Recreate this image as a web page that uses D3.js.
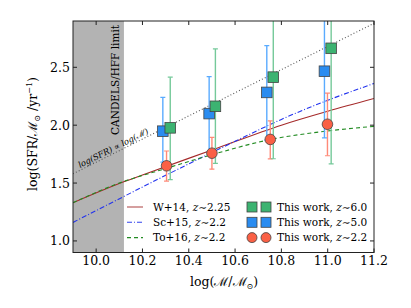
<!DOCTYPE html>
<html><head><meta charset="utf-8">
<script src="https://cdn.jsdelivr.net/npm/d3@7/dist/d3.min.js"></script>
<style>body{margin:0;background:#fff}svg{display:block}text{font-family:"DejaVu Serif",serif;fill:#000}</style>
</head><body>
<svg id="c" width="411" height="308"></svg>
<script>
// ---- data ----
const xTicks = [10.0, 10.2, 10.4, 10.6, 10.8, 11.0, 11.2];
const yTicks = [1.0, 1.5, 2.0, 2.5];
const limitX = 10.12;
// reference relations [logM, logSFR]
const w14 = [[9.9,1.33],[10.125,1.515],[10.2,1.57],[10.5,1.785],[10.8,2.0],[11.0,2.12],[11.2,2.23]];
const sc15 = [[9.9,1.16],[10.62,1.88],[10.8,2.05],[11.0,2.215],[11.2,2.36]];
const to16 = [[9.9,1.33],[10.1,1.50],[10.3,1.625],[10.5,1.745],[10.75,1.875],[11.0,1.95],[11.2,1.99]];
const linear = [[9.9,1.58],[11.2,2.88]];
// this work: x, y, lower, upper
const z6x = [10.32, 10.515, 10.765, 11.015];
const z6y = [1.977, 2.163, 2.415, 2.664];
const z6lo = [1.53, 1.67, 1.71, 1.665];
const z6hi = [2.415, 2.659, 3.2, 3.3];
const z5x = [10.288, 10.488, 10.737, 10.986];
const z5y = [1.948, 2.10, 2.283, 2.466];
const z5lo = [1.68, 1.77, 1.87, 1.89];
const z5hi = [2.24, 2.42, 2.687, 3.2];
const z2x = [10.304, 10.50, 10.752, 10.999];
const z2y = [1.649, 1.758, 1.877, 2.008];
const z2lo = [1.517, 1.62, 1.708, 1.736];
const z2hi = [1.777, 1.894, 2.037, 2.277];

const svg = d3.select("#c");
const L=73, R=374, T=21, B=252.5;
const x = d3.scaleLinear([9.9, 11.2], [L, R]);
const y = d3.scaleLinear([0.9, 2.9], [B, T]);

svg.append("defs").append("clipPath").attr("id","clip")
  .append("rect").attr("x",L).attr("y",T).attr("width",R-L).attr("height",B-T);
const g = svg.append("g").attr("clip-path","url(#clip)");

// shaded limit
g.append("rect").attr("x",x(9.9)).attr("y",T).attr("width",x(limitX)-x(9.9)).attr("height",B-T).attr("fill","#b3b3b3");
svg.append("text").attr("transform",`translate(${x(limitX)-5},${T+4}) rotate(-90)`)
  .attr("text-anchor","end").attr("font-size",10.5).text("CANDELS/HFF limit");

const line = d3.line().x(d=>x(d[0])).y(d=>y(d[1])).curve(d3.curveMonotoneX);
g.append("path").attr("d",line(linear)).attr("fill","none").attr("stroke","#555").attr("stroke-width",1.1).attr("stroke-dasharray","1,2.2");
g.append("path").attr("d",line(w14)).attr("fill","none").attr("stroke","#a52a2a").attr("stroke-width",1.1);
g.append("path").attr("d",line(sc15)).attr("fill","none").attr("stroke","#2233ee").attr("stroke-width",1.1).attr("stroke-dasharray","5,2,1,2");
g.append("path").attr("d",line(to16)).attr("fill","none").attr("stroke","#228b22").attr("stroke-width",1.1).attr("stroke-dasharray","4,3");

// slope annotation
const ang = -Math.atan2(y(1)-y(2), x(2)-x(1))*180/Math.PI;
svg.append("text").attr("transform",`translate(${x(9.93)},${y(1.63)}) rotate(${ang})`)
  .attr("font-size",8.3).attr("font-style","italic").text("log(SFR) ∝ log(ℳ)");

// error bars + markers
const sets = [
  {xs:z2x, ys:z2y, lo:z2lo, hi:z2hi, fill:"#fa6045", eb:"#ff8a78", shape:"c"},
  {xs:z5x, ys:z5y, lo:z5lo, hi:z5hi, fill:"#2a8cf0", eb:"#5aabff", shape:"s"},
  {xs:z6x, ys:z6y, lo:z6lo, hi:z6hi, fill:"#3cb371", eb:"#75c99a", shape:"s"}
];
sets.forEach(s=>{
  s.xs.forEach((xv,i)=>{
    const px=x(xv);
    g.append("line").attr("x1",px).attr("x2",px).attr("y1",y(s.lo[i])).attr("y2",y(s.hi[i])).attr("stroke",s.eb).attr("stroke-width",1.4);
    [s.lo[i], s.hi[i]].forEach(v=>g.append("line").attr("x1",px-2.5).attr("x2",px+2.5).attr("y1",y(v)).attr("y2",y(v)).attr("stroke",s.eb).attr("stroke-width",1.2));
  });
});
sets.forEach(s=>{
  s.xs.forEach((xv,i)=>{
    const px=x(xv), py=y(s.ys[i]);
    if(s.shape==="c") g.append("circle").attr("cx",px).attr("cy",py).attr("r",5.3).attr("fill",s.fill).attr("stroke","#444").attr("stroke-width",0.8);
    else g.append("rect").attr("x",px-5.3).attr("y",py-5.3).attr("width",10.6).attr("height",10.6).attr("fill",s.fill).attr("stroke","#444").attr("stroke-width",0.8);
  });
});

// frame
svg.append("rect").attr("x",L).attr("y",T).attr("width",R-L).attr("height",B-T).attr("fill","none").attr("stroke","#222").attr("stroke-width",1);
// ticks
xTicks.forEach(t=>{
  const px=x(t);
  svg.append("line").attr("x1",px).attr("x2",px).attr("y1",B).attr("y2",B-4).attr("stroke","#222");
  svg.append("line").attr("x1",px).attr("x2",px).attr("y1",T).attr("y2",T+4).attr("stroke","#222");
  svg.append("text").attr("x",px).attr("y",B+12.5).attr("text-anchor","middle").attr("font-size",12.5).text(d3.format(".1f")(t));
});
yTicks.forEach(t=>{
  const py=y(t);
  svg.append("line").attr("x1",L).attr("x2",L+4).attr("y1",py).attr("y2",py).attr("stroke","#222");
  svg.append("line").attr("x1",R).attr("x2",R-4).attr("y1",py).attr("y2",py).attr("stroke","#222");
  svg.append("text").attr("x",L-3).attr("y",py+4.5).attr("text-anchor","end").attr("font-size",12.5).text(d3.format(".1f")(t));
});

// axis labels
const xl = svg.append("text").attr("x",224).attr("y",286).attr("text-anchor","middle").attr("font-size",12.5);
xl.append("tspan").text("log(ℳ/ℳ");
xl.append("tspan").attr("font-size",8).attr("dy",3).text("⊙");
xl.append("tspan").attr("dy",-3).text(")");
const yl = svg.append("text").attr("transform","translate(37,134) rotate(-90)").attr("text-anchor","middle").attr("font-size",12.5);
yl.append("tspan").text("log(SFR/ℳ");
yl.append("tspan").attr("font-size",8).attr("dy",3).text("⊙");
yl.append("tspan").attr("dy",-3).text(" /yr");
yl.append("tspan").attr("font-size",8).attr("dy",-5).text("−1");
yl.append("tspan").attr("dy",5).text(")");

// legends
const leg1 = [
  {name:"W+14, ", z:"2.25", color:"#b35050", dash:null},
  {name:"Sc+15, ", z:"2.2", color:"#3344ee", dash:"5,2,1,2"},
  {name:"To+16, ", z:"2.2", color:"#228b22", dash:"4,3"}
];
leg1.forEach((d,i)=>{
  const yy = 207 + i*15.3;
  svg.append("line").attr("x1",127).attr("x2",143).attr("y1",yy).attr("y2",yy).attr("stroke",d.color).attr("stroke-width",1.1).attr("stroke-dasharray",d.dash);
  const t = svg.append("text").attr("x",153).attr("y",yy+3.8).attr("font-size",10.5);
  t.append("tspan").text(d.name);
  t.append("tspan").attr("font-style","italic").text("z");
  t.append("tspan").text("∼"+d.z);
});
const leg2 = [
  {label:"6.0", fill:"#3cb371", shape:"s"},
  {label:"5.0", fill:"#2a8cf0", shape:"s"},
  {label:"2.2", fill:"#fa6045", shape:"c"}
];
leg2.forEach((d,i)=>{
  const yy = 207 + i*15.3;
  [252,266].forEach(px=>{
    if(d.shape==="c") svg.append("circle").attr("cx",px).attr("cy",yy).attr("r",5).attr("fill",d.fill).attr("stroke","#444").attr("stroke-width",0.8);
    else svg.append("rect").attr("x",px-5).attr("y",yy-5).attr("width",10).attr("height",10).attr("fill",d.fill).attr("stroke","#444").attr("stroke-width",0.8);
  });
  const t = svg.append("text").attr("x",277).attr("y",yy+3.8).attr("font-size",10.5);
  t.append("tspan").text("This work, ");
  t.append("tspan").attr("font-style","italic").text("z");
  t.append("tspan").text("∼"+d.label);
});
</script>
</body></html>
